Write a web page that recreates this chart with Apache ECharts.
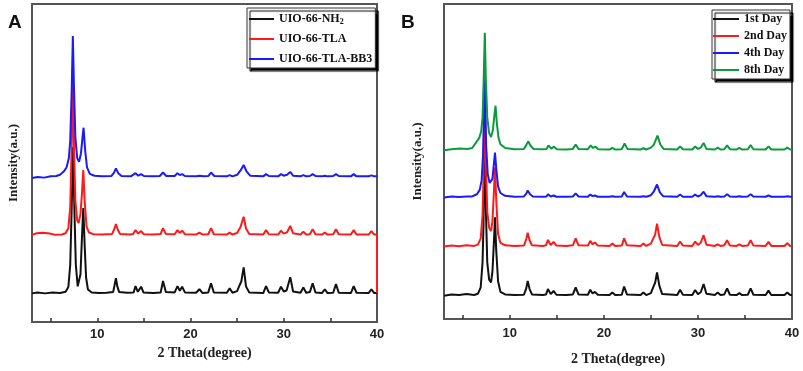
<!DOCTYPE html>
<html>
<head>
<meta charset="utf-8">
<script src="https://cdn.jsdelivr.net/npm/echarts@6/dist/echarts.min.js"></script>
<style>
  html, body { margin: 0; background: #fff; }
  #chart { width: 803px; height: 371px; }
</style>
</head>
<body>
<div id="chart"></div>
<script>
// panel A series names / panel B series names
const namesA = ['UIO-66-NH2', 'UIO-66-TLA', 'UIO-66-TLA-BB3']
const namesB = ['1st Day', '2nd Day', '4th Day', '8th Day']
const tickValues = [5, 10, 15, 20, 25, 30, 35]
const labelValues = [10, 20, 30, 40]

// [2theta, intensity(a.u., stacked offset)]
const uioNH2 = [[3,9.0],[3.6,9.3],[4.4,9.0],[5.2,9.3],[6.0,9.1],[6.6,9.5],[6.9,11],[7.1,18],[7.25,35],[7.4,55],[7.55,35],[7.7,18],[7.9,11.2],[8.05,11.0],[8.2,15],[8.35,26],[8.5,35.8],[8.65,24],[8.8,14],[9.0,10.2],[9.4,9.3],[10.2,9.1],[11.0,9.2],[11.7,9.4],[11.85,11.5],[12.0,13.8],[12.15,11.2],[12.35,9.4],[13.2,9.2],[13.9,9.3],[14.1,11.3],[14.35,9.5],[14.5,9.5],[14.7,11.1],[14.95,9.3],[16.0,9.1],[16.8,9.3],[17.05,12.9],[17.35,9.4],[18.3,9.3],[18.6,11.3],[18.85,9.8],[19.1,11.1],[19.4,9.3],[20.6,9.2],[20.95,10.3],[21.3,9.1],[21.9,9.3],[22.2,12.2],[22.5,9.3],[23.9,9.2],[24.2,10.6],[24.5,9.2],[25.0,9.7],[25.3,11.8],[25.45,12.8],[25.7,17.2],[25.95,11.2],[26.3,9.3],[27.8,9.1],[28.1,11.3],[28.4,9.3],[29.4,9.2],[29.7,11.1],[30.0,9.6],[30.3,9.9],[30.7,14.1],[31.0,9.6],[31.8,9.2],[32.1,10.9],[32.4,9.2],[32.8,9.4],[33.1,12.2],[33.4,9.3],[34.1,9.1],[34.4,10.3],[34.7,9.1],[35.3,9.2],[35.6,11.9],[35.9,9.2],[37.2,9.1],[37.5,11.3],[37.8,9.2],[39.1,9.1],[39.4,10.3],[39.7,9.1],[40,9.1]]
const uioTLA = [[3,27.4],[3.5,27.9],[4.2,28.1],[4.9,27.8],[5.5,27.4],[6.2,27.5],[6.6,27.9],[6.9,29.5],[7.1,36],[7.25,55],[7.38,79.9],[7.5,55],[7.65,38],[7.85,32],[8.0,31.1],[8.2,34],[8.35,40],[8.5,47.8],[8.65,38],[8.85,30],[9.1,28.2],[9.6,27.6],[10.5,27.5],[11.6,27.7],[11.85,29.4],[12.0,30.8],[12.2,29.0],[12.45,27.7],[13.5,27.5],[13.85,27.7],[14.1,28.9],[14.4,27.8],[14.7,28.6],[15.0,27.6],[16.0,27.5],[16.8,27.7],[17.05,29.5],[17.35,27.7],[18.3,27.6],[18.6,28.9],[18.85,28.0],[19.1,28.7],[19.4,27.6],[20.6,27.5],[20.95,28.1],[21.3,27.5],[21.9,27.6],[22.2,29.5],[22.5,27.6],[23.9,27.5],[24.2,28.1],[24.5,27.5],[25.0,28.0],[25.35,29.8],[25.7,33.1],[25.95,29.4],[26.3,27.7],[27.8,27.5],[28.1,28.9],[28.4,27.6],[29.4,27.5],[29.7,28.7],[30.0,27.8],[30.35,28.2],[30.7,30.2],[31.0,27.9],[31.8,27.5],[32.1,28.4],[32.4,27.5],[32.8,27.6],[33.1,29.2],[33.4,27.6],[34.1,27.5],[34.4,28.1],[34.7,27.5],[35.3,27.6],[35.6,29.2],[35.9,27.6],[37.2,27.5],[37.5,28.9],[37.8,27.5],[39.1,27.5],[39.4,28.6],[39.7,27.5],[40,27.5],[40,9.1]]
const uioTLABB3 = [[3,45.3],[3.6,45.6],[4.3,45.4],[5.0,45.8],[5.6,45.9],[6.0,46.3],[6.4,47.3],[6.7,48.6],[6.95,51.5],[7.1,57],[7.25,72],[7.38,89.9],[7.5,74],[7.65,58],[7.85,51.5],[8.05,50.4],[8.25,53],[8.4,57.5],[8.53,61.1],[8.7,54],[8.9,48.6],[9.2,46.6],[9.7,46.0],[10.5,45.8],[11.5,45.9],[11.8,47.0],[12.0,48.3],[12.25,46.8],[12.6,45.9],[13.6,45.8],[14.1,46.8],[14.4,46.0],[14.7,46.5],[15.0,45.9],[16.0,45.8],[16.7,45.9],[17.05,47.0],[17.4,45.9],[18.3,45.9],[18.6,46.8],[18.85,46.2],[19.1,46.5],[19.4,45.9],[20.6,45.8],[21.0,46.0],[21.4,45.8],[21.9,45.9],[22.2,47.0],[22.55,45.9],[23.9,45.8],[24.2,46.2],[24.5,45.8],[25.0,46.3],[25.35,47.6],[25.7,49.4],[26.0,47.4],[26.4,46.0],[27.8,45.8],[28.1,46.5],[28.4,45.9],[29.4,45.8],[29.7,46.5],[30.0,46.0],[30.35,46.3],[30.7,47.2],[31.0,46.0],[31.8,45.8],[32.1,46.2],[32.4,45.8],[32.8,45.9],[33.1,46.5],[33.4,45.9],[34.1,45.8],[34.4,46.0],[34.7,45.8],[35.3,45.9],[35.6,46.5],[35.9,45.9],[37.2,45.8],[37.5,46.5],[37.8,45.8],[39.1,45.8],[39.4,46.1],[39.7,45.8],[40,45.8]]

const day1 = [[3,7.4],[3.8,7.8],[4.6,7.6],[5.4,7.9],[6.2,7.6],[6.6,8.0],[6.9,10],[7.1,18],[7.2,30],[7.33,62],[7.45,35],[7.6,18],[7.8,12.5],[8.0,11.6],[8.15,15],[8.3,24],[8.42,32.3],[8.55,22],[8.75,12],[9.0,8.6],[9.5,7.8],[10.5,7.6],[11.5,7.7],[11.75,9.8],[11.9,12.1],[12.1,9.5],[12.35,7.8],[13.5,7.6],[13.85,7.8],[14.05,9.5],[14.35,7.9],[14.65,8.9],[14.95,7.7],[16.0,7.6],[16.7,7.8],[17.0,10.0],[17.3,7.8],[18.3,7.7],[18.55,9.3],[18.8,8.1],[19.05,8.6],[19.35,7.7],[20.6,7.6],[20.9,8.4],[21.2,7.6],[21.9,7.7],[22.15,10.3],[22.45,7.8],[23.9,7.6],[24.2,8.4],[24.5,7.6],[25.0,8.2],[25.3,10.5],[25.45,11.5],[25.65,14.8],[25.9,10.5],[26.2,7.9],[27.8,7.6],[28.1,9.3],[28.4,7.7],[29.4,7.6],[29.7,9.2],[30.0,7.9],[30.3,8.5],[30.6,11.1],[30.9,8.0],[31.8,7.6],[32.1,8.4],[32.4,7.6],[32.8,7.8],[33.1,9.7],[33.4,7.7],[34.1,7.6],[34.4,8.2],[34.7,7.6],[35.3,7.7],[35.6,9.7],[35.9,7.7],[37.2,7.6],[37.5,9.0],[37.8,7.6],[39.2,7.6],[39.5,8.4],[39.8,7.6],[40,7.6]]
const day2 = [[3,23.0],[3.8,23.3],[4.6,23.1],[5.4,23.4],[6.2,23.2],[6.6,23.6],[6.9,25.5],[7.1,33],[7.2,45],[7.33,80.7],[7.45,50],[7.6,34],[7.8,29],[8.0,27.9],[8.15,31],[8.3,40],[8.42,48.1],[8.55,38],[8.75,27],[9.0,24.2],[9.5,23.4],[10.5,23.2],[11.5,23.3],[11.75,25.4],[11.9,27.4],[12.1,25.0],[12.35,23.4],[13.5,23.2],[13.85,23.4],[14.05,25.1],[14.35,23.5],[14.65,24.5],[14.95,23.3],[16.0,23.2],[16.7,23.4],[17.0,25.6],[17.3,23.4],[18.3,23.3],[18.55,24.8],[18.8,23.7],[19.05,24.3],[19.35,23.3],[20.6,23.2],[20.9,24.0],[21.2,23.2],[21.9,23.3],[22.15,25.6],[22.45,23.4],[23.9,23.2],[24.2,24.0],[24.5,23.2],[25.0,23.9],[25.3,25.9],[25.45,26.8],[25.65,30.3],[25.9,26.0],[26.2,23.5],[27.8,23.2],[28.1,24.6],[28.4,23.3],[29.4,23.2],[29.7,24.6],[30.0,23.5],[30.3,24.2],[30.6,26.6],[30.9,23.6],[31.8,23.2],[32.1,23.7],[32.4,23.2],[32.8,23.4],[33.1,25.0],[33.4,23.3],[34.1,23.2],[34.4,23.7],[34.7,23.2],[35.3,23.3],[35.6,25.0],[35.9,23.3],[37.2,23.2],[37.5,24.5],[37.8,23.2],[39.2,23.2],[39.5,24.1],[39.8,23.2],[40,23.2]]
const day4 = [[3,38.6],[3.8,38.9],[4.6,38.7],[5.4,38.9],[6.0,38.9],[6.5,39.6],[6.8,41],[7.0,44],[7.15,52],[7.33,75.9],[7.48,55],[7.65,46],[7.85,43.2],[8.0,42.7],[8.15,44.5],[8.3,49],[8.42,52.8],[8.55,48],[8.75,42],[9.0,40],[9.5,39.1],[10.5,38.8],[11.5,38.9],[11.75,39.8],[11.9,40.8],[12.15,39.6],[12.45,38.9],[13.6,38.8],[13.9,38.9],[14.05,39.6],[14.35,38.9],[14.65,39.2],[14.95,38.8],[16.0,38.8],[16.7,38.9],[17.0,39.9],[17.3,38.9],[18.3,38.8],[18.55,39.5],[18.8,39.0],[19.05,39.2],[19.35,38.8],[20.6,38.8],[20.9,39.0],[21.2,38.8],[21.9,38.9],[22.15,40.3],[22.45,38.9],[23.9,38.8],[24.2,39.0],[24.5,38.8],[25.0,39.3],[25.3,40.4],[25.65,42.7],[25.95,40.2],[26.3,39.0],[27.8,38.8],[28.1,39.5],[28.4,38.8],[29.4,38.8],[29.7,39.5],[30.0,38.9],[30.3,39.3],[30.6,40.4],[30.9,39.0],[31.8,38.8],[32.1,39.0],[32.4,38.8],[32.8,38.9],[33.1,39.6],[33.4,38.9],[34.1,38.8],[34.4,39.0],[34.7,38.8],[35.3,38.9],[35.6,39.6],[35.9,38.9],[37.2,38.8],[37.5,39.2],[37.8,38.8],[39.2,38.8],[39.5,39.0],[39.8,38.8],[40,38.8]]
const day8 = [[3,53.6],[3.8,53.9],[4.7,54.1],[5.5,54.0],[6.0,54.3],[6.4,56.0],[6.75,57.5],[6.95,59.5],[7.1,64],[7.22,76],[7.34,90.9],[7.45,76],[7.6,64],[7.8,59],[8.0,57.8],[8.2,60],[8.35,64.5],[8.48,67.7],[8.62,62],[8.8,57.5],[9.0,55.5],[9.5,54.3],[10.5,53.9],[11.5,54.0],[11.75,55.2],[11.95,56.4],[12.2,55.0],[12.5,54.0],[13.6,53.9],[13.9,54.0],[14.1,55.1],[14.4,54.1],[14.7,54.7],[15.0,53.9],[16.0,53.8],[16.7,54.0],[17.0,55.4],[17.3,54.0],[18.3,53.9],[18.6,55.1],[18.85,54.3],[19.1,54.7],[19.4,53.9],[20.6,53.8],[20.9,54.3],[21.2,53.8],[21.9,53.9],[22.2,55.7],[22.5,54.0],[23.9,53.8],[24.2,54.2],[24.5,53.8],[25.0,54.4],[25.3,55.3],[25.7,58.2],[26.0,55.4],[26.35,54.0],[27.8,53.8],[28.1,54.8],[28.4,53.9],[29.4,53.8],[29.7,54.8],[30.0,54.0],[30.3,54.4],[30.6,55.9],[30.9,54.0],[31.8,53.8],[32.1,54.4],[32.4,53.8],[32.8,53.9],[33.1,55.1],[33.4,53.9],[34.1,53.8],[34.4,54.3],[34.7,53.8],[35.3,53.9],[35.6,55.2],[35.9,53.9],[37.2,53.8],[37.5,54.8],[37.8,53.8],[39.2,53.8],[39.5,54.4],[39.8,53.8],[40,53.8]]

const colorsA = ['#111111', '#ff1a1a', '#1a1aff']
const colorsB = ['#111111', '#ff1a1a', '#1a1aff', '#0b9a3c']

const serif = 'Liberation Serif'
const sans = 'Liberation Sans'

function xAxisFor(gridIndex, nameGap, margin) {
  return {
    type: 'value',
    gridIndex: gridIndex,
    min: 3,
    max: 40,
    name: '2 Theta(degree)',
    nameLocation: 'middle',
    nameGap: nameGap,
    nameTextStyle: { fontFamily: serif, fontWeight: 'bold', fontSize: 14, color: '#222' },
    axisLine: { show: false },
    splitLine: { show: false },
    axisTick: { inside: true, length: 4, customValues: tickValues, lineStyle: { color: '#333', width: 1.5 } },
    axisLabel: { customValues: labelValues, margin: margin, fontFamily: sans, fontWeight: 'bold', fontSize: 13, color: '#222' }
  }
}

function yAxisFor(gridIndex, nameGap) {
  return {
    type: 'value',
    gridIndex: gridIndex,
    min: 0,
    max: 100,
    name: 'Intensity(a.u.)',
    nameLocation: 'middle',
    nameGap: nameGap,
    nameTextStyle: { fontFamily: serif, fontWeight: 'bold', fontSize: 13, color: '#222' },
    axisLine: { show: false },
    axisTick: { show: false },
    axisLabel: { show: false },
    splitLine: { show: false }
  }
}

function legendFor(names, left, top, padding, gap, iconW) {
  return {
    data: names,
    orient: 'vertical',
    left: left,
    top: top,
    padding: padding,
    itemGap: gap,
    itemWidth: iconW,
    itemHeight: 2,
    icon: 'rect',
    backgroundColor: '#fff',
    borderColor: '#333',
    borderWidth: 1,
    shadowColor: '#000',
    shadowBlur: 1,
    shadowOffsetX: 3,
    shadowOffsetY: 3,
    formatter: function (name) {
      return name === 'UIO-66-NH2' ? 'UIO-66-NH{sub|2}' : name
    },
    textStyle: {
      fontFamily: serif, fontWeight: 'bold', fontSize: 12, color: '#111', lineHeight: 14,
      rich: {
        sub: { fontFamily: serif, fontWeight: 'bold', fontSize: 8, color: '#111', lineHeight: 14, verticalAlign: 'bottom', padding: [5, 0, 0, 0] }
      }
    }
  }
}

function lineSeries(name, data, color, idx) {
  return {
    type: 'line',
    name: name,
    data: data,
    xAxisIndex: idx,
    yAxisIndex: idx,
    showSymbol: false,
    symbol: 'none',
    color: color,
    lineStyle: { color: color, width: 2 }
  }
}

const chart = echarts.init(document.getElementById('chart'), null, { renderer: 'canvas' })
chart.setOption({
  animation: false,
  backgroundColor: '#fff',
  title: [
    { text: 'A', left: 3, top: 8, textStyle: { fontFamily: sans, fontWeight: 'bold', fontSize: 19, color: '#111' } },
    { text: 'B', left: 396, top: 8, textStyle: { fontFamily: sans, fontWeight: 'bold', fontSize: 19, color: '#111' } }
  ],
  grid: [
    { left: 32, top: 4, width: 345, height: 318, show: true, borderColor: '#555', borderWidth: 2, backgroundColor: 'transparent' },
    { left: 444, top: 4, width: 348, height: 316, show: true, borderColor: '#555', borderWidth: 2, backgroundColor: 'transparent' }
  ],
  xAxis: [xAxisFor(0, 24, 6), xAxisFor(1, 33, 8)],
  yAxis: [yAxisFor(0, 12), yAxisFor(1, 20)],
  legend: [
    legendFor(namesA, 247, 8, [4, 3, 2, 2], 6, 25),
    legendFor(namesB, 712, 10, [2, 3, 2, 1], 3, 26)
  ],
  series: [
    lineSeries(namesA[0], uioNH2, colorsA[0], 0),
    lineSeries(namesA[1], uioTLA, colorsA[1], 0),
    lineSeries(namesA[2], uioTLABB3, colorsA[2], 0),
    lineSeries(namesB[0], day1, colorsB[0], 1),
    lineSeries(namesB[1], day2, colorsB[1], 1),
    lineSeries(namesB[2], day4, colorsB[2], 1),
    lineSeries(namesB[3], day8, colorsB[3], 1)
  ]
})
</script>
</body>
</html>
